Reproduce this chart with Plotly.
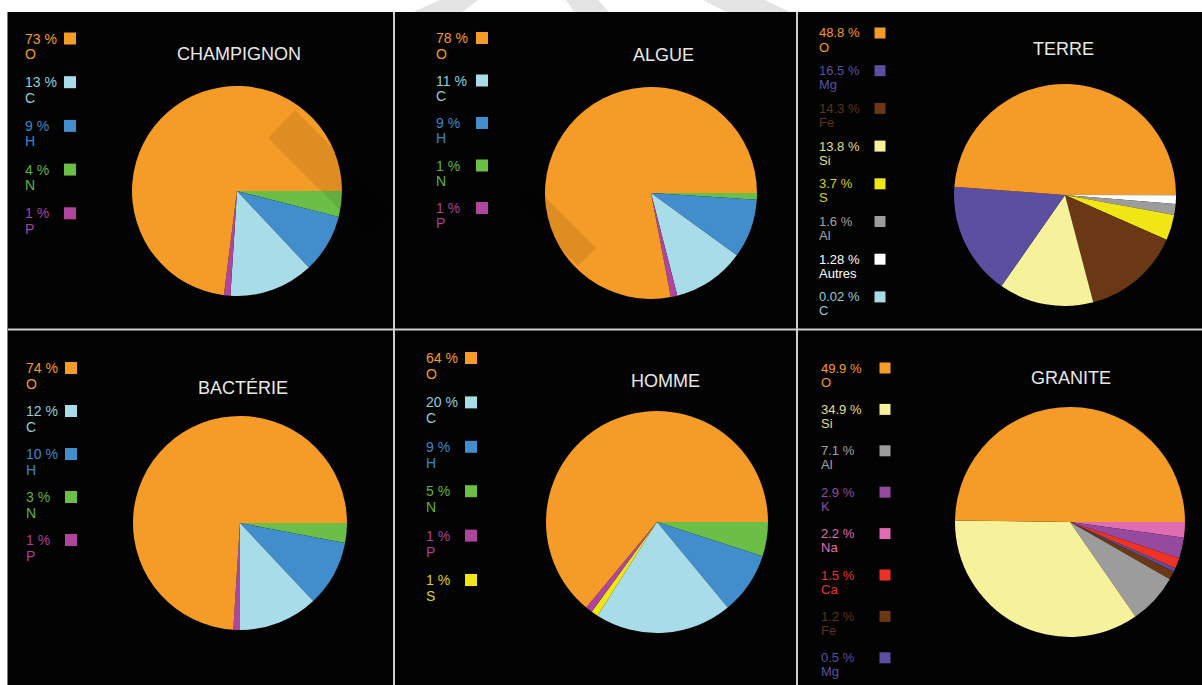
import plotly.graph_objects as go

W, H = 1202, 685

# ---- composition data (% by mass), listed in legend order ----
champignon_elements = ["O", "C", "H", "N", "P"]
champignon_values = [73, 13, 9, 4, 1]
champignon_slice_order = ["O", "P", "C", "H", "N"]

algue_elements = ["O", "C", "H", "N", "P"]
algue_values = [78, 11, 9, 1, 1]
algue_slice_order = ["O", "P", "C", "H", "N"]

terre_elements = ["O", "Mg", "Fe", "Si", "S", "Al", "Autres", "C"]
terre_values = [48.8, 16.5, 14.3, 13.8, 3.7, 1.6, 1.28, 0.02]
terre_slice_order = ["O", "Mg", "Si", "Fe", "S", "Al", "Autres", "C"]

bacterie_elements = ["O", "C", "H", "N", "P"]
bacterie_values = [74, 12, 10, 3, 1]
bacterie_slice_order = ["O", "P", "C", "H", "N"]

homme_elements = ["O", "C", "H", "N", "P", "S"]
homme_values = [64, 20, 9, 5, 1, 1]
homme_slice_order = ["O", "P", "S", "C", "H", "N"]

granite_elements = ["O", "Si", "Al", "K", "Na", "Ca", "Fe", "Mg"]
granite_values = [49.9, 34.9, 7.1, 2.9, 2.2, 1.5, 1.2, 0.5]
granite_slice_order = ["O", "Si", "Al", "Fe", "Mg", "Ca", "K", "Na"]

titles = ["CHAMPIGNON", "ALGUE", "TERRE", "BACTÉRIE", "HOMME", "GRANITE"]

# ---- styling ----
ELEMENT_COLORS = {
    "O": "#f59b27",
    "C": "#a9dce9",
    "H": "#428dcc",
    "N": "#6bbf47",
    "P": "#b0459d",
    "S": "#f0e614",
    "Mg": "#5c4fa1",
    "Fe": "#6b3815",
    "Si": "#f6f29c",
    "Al": "#9c9c9c",
    "Autres": "#ffffff",
    "K": "#964a9f",
    "Na": "#e06cb1",
    "Ca": "#ee3224",
}
TEXT_COLORS = dict(ELEMENT_COLORS)
TEXT_COLORS.update({"C": "#8ccfdb", "H": "#3a88c9", "N": "#5fb33f",
                    "P": "#a8419a", "S": "#dcd40f", "Si": "#e4df8e",
                    "Fe": "#5e3213", "Al": "#a4a4a4"})

FONT = "Liberation Sans, Arial, sans-serif"

panels = [
    dict(title=titles[0], elements=champignon_elements, values=champignon_values,
         order=champignon_slice_order, pie=(237, 191, 105), head=(239, 54),
         lx=24, sq=70, row0=38.5, step=43.7, fs=14, sub=15.5, size=12),
    dict(title=titles[1], elements=algue_elements, values=algue_values,
         order=algue_slice_order, pie=(651, 193, 106), head=(663, 55),
         lx=435, sq=482, row0=38, step=42.5, fs=14, sub=15.5, size=12),
    dict(title=titles[2], elements=terre_elements, values=terre_values,
         order=terre_slice_order, pie=(1065, 195, 111), head=(1063, 49),
         lx=818, sq=880, row0=33, step=37.7, fs=13, sub=14, size=11),
    dict(title=titles[3], elements=bacterie_elements, values=bacterie_values,
         order=bacterie_slice_order, pie=(240, 523, 107), head=(243, 388),
         lx=25, sq=71, row0=368, step=43, fs=14, sub=16, size=12),
    dict(title=titles[4], elements=homme_elements, values=homme_values,
         order=homme_slice_order, pie=(657, 522, 111), head=(665, 381),
         lx=425, sq=471, row0=358, step=44.4, fs=14, sub=16, size=12),
    dict(title=titles[5], elements=granite_elements, values=granite_values,
         order=granite_slice_order, pie=(1070, 522, 115), head=(1071, 378),
         lx=820, sq=885, row0=368, step=41.4, fs=13, sub=14, size=11),
]


def px(x):
    return x / W


def py(y):
    return 1 - y / H


def poly(points):
    return "M " + " L ".join(f"{px(x)},{py(y)}" for x, y in points) + " Z"


fig = go.Figure()
shapes = []
annotations = []

for p in panels:
    lookup = dict(zip(p["elements"], p["values"]))
    # slices run counterclockwise from 3 o'clock in "order"; plotly's
    # clockwise layout from the same start gives that with the list reversed
    seq = list(reversed(p["order"]))
    cx, cy, r = p["pie"]
    fig.add_trace(go.Pie(
        labels=seq,
        values=[lookup[e] for e in seq],
        sort=False,
        direction="clockwise",
        rotation=90,
        textinfo="none",
        hoverinfo="label+percent",
        showlegend=False,
        marker=dict(colors=[ELEMENT_COLORS[e] for e in seq],
                    line=dict(width=0)),
        domain=dict(x=[px(cx - r), px(cx + r)], y=[py(cy + r), py(cy - r)]),
    ))

    # panel heading
    hx, hy = p["head"]
    annotations.append(dict(
        x=px(hx), y=py(hy), xref="paper", yref="paper", showarrow=False,
        text=p["title"], xanchor="center", yanchor="middle",
        font=dict(family=FONT, size=18, color="#e8e8e8"),
    ))

    # custom legend: value line, symbol line, coloured square
    for i, (el, val) in enumerate(zip(p["elements"], p["values"])):
        yrow = p["row0"] + i * p["step"]
        tc = TEXT_COLORS[el]
        annotations.append(dict(
            x=px(p["lx"]), y=py(yrow), xref="paper", yref="paper",
            showarrow=False, text=f"{val:g} %", xanchor="left",
            yanchor="middle", borderpad=0,
            font=dict(family=FONT, size=p["fs"], color=tc),
        ))
        annotations.append(dict(
            x=px(p["lx"]), y=py(yrow + p["sub"]), xref="paper", yref="paper",
            showarrow=False, text=el, xanchor="left", yanchor="middle",
            borderpad=0, font=dict(family=FONT, size=p["fs"], color=tc),
        ))
        h = p["size"] / 2
        shapes.append(dict(
            type="rect", xref="paper", yref="paper",
            x0=px(p["sq"] - h), x1=px(p["sq"] + h),
            y0=py(yrow + h), y1=py(yrow - h),
            fillcolor=ELEMENT_COLORS[el], line=dict(width=0), layer="above",
        ))

# white margin strips around the black board
shapes.append(dict(type="rect", xref="paper", yref="paper", x0=0, x1=1,
                   y0=py(12), y1=1, fillcolor="white", line=dict(width=0),
                   layer="below"))
shapes.append(dict(type="rect", xref="paper", yref="paper", x0=0, x1=px(7),
                   y0=0, y1=1, fillcolor="white", line=dict(width=0),
                   layer="below"))

# faint grey bands in the top strip
for band in ([(440, 0), (478, 0), (462, 12), (413, 12)],
             [(566, 0), (598, 0), (609, 12), (574, 12)],
             [(703, 0), (765, 0), (790, 12), (726, 12)]):
    shapes.append(dict(type="path", xref="paper", yref="paper",
                       path=poly(band), fillcolor="#e4e4e4",
                       line=dict(width=0), layer="below"))

# translucent darker patches over two of the pies
for patch in ([(295, 110), (268, 138), (368, 238), (395, 210)],
              [(528, 180), (596, 248), (578, 266), (510, 198)]):
    shapes.append(dict(type="path", xref="paper", yref="paper",
                       path=poly(patch), fillcolor="rgba(0,0,0,0.09)",
                       line=dict(width=0), layer="above"))

# light separator lines between panels
grid = "#cfcfcf"
shapes.append(dict(type="line", xref="paper", yref="paper",
                   x0=px(7), x1=1, y0=py(329.5), y1=py(329.5),
                   line=dict(color=grid, width=2), layer="above"))
for gx in (394, 797):
    shapes.append(dict(type="line", xref="paper", yref="paper",
                       x0=px(gx), x1=px(gx), y0=py(12), y1=0,
                       line=dict(color=grid, width=2), layer="above"))
shapes.append(dict(type="line", xref="paper", yref="paper",
                   x0=px(7.5), x1=px(7.5), y0=py(12), y1=0,
                   line=dict(color="#7a7a7a", width=1), layer="above"))

fig.update_layout(
    width=W, height=H,
    margin=dict(l=0, r=0, t=0, b=0),
    paper_bgcolor="#030303",
    plot_bgcolor="#030303",
    shapes=shapes,
    annotations=annotations,
    showlegend=False,
)

fig.write_html("out.html")
